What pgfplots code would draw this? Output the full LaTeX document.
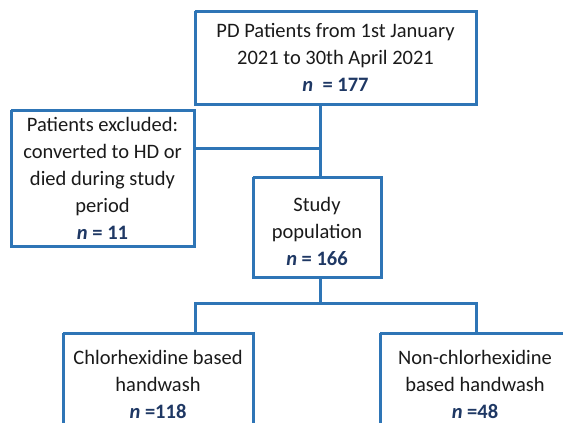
\documentclass[border=0pt]{standalone}
\usepackage{pgfplots}
\pgfplotsset{compat=1.18}
\usepackage{fontspec}
\setmainfont{Carlito}
\definecolor{boxblue}{HTML}{2E75B6}
\definecolor{txt}{HTML}{1A1A1A}
\definecolor{navy}{HTML}{1F3864}
\newcommand{\nn}[1]{{\color{navy}\bfseries\itshape n\upshape#1}}
\tikzset{
  bx/.style={draw=boxblue, line width=3pt, mark=none, solid},
  tx/.style={font=\fontsize{20.5}{27}\selectfont, text=txt, align=center, inner sep=0pt},
}
\begin{document}
\begin{tikzpicture}
\begin{axis}[
  scale only axis, width=563pt, height=423pt,
  xmin=0, xmax=563, ymin=0, ymax=423, y dir=reverse,
  hide axis, clip=true,
]
% frame to fix bounding box
\addplot[draw=none, mark=none] coordinates {(0,0) (563,423)};
% boxes
\addplot[bx] coordinates {(195,11) (476,11) (476,104) (195,104) (195,11)};
\addplot[bx] coordinates {(11,110) (194,110) (194,246) (11,246) (11,110)};
\addplot[bx] coordinates {(253,177) (381,177) (381,277) (253,277) (253,177)};
\addplot[bx] coordinates {(63,333) (253,333) (253,440) (63,440) (63,333)};
\addplot[bx] coordinates {(380,333) (580,333) (580,440) (380,440) (380,333)};
% connectors
\addplot[bx] coordinates {(320,104) (320,177)};
\addplot[bx] coordinates {(194,148) (320,148)};
\addplot[bx] coordinates {(320,277) (320,303)};
\addplot[bx] coordinates {(195,333) (195,303) (476,303) (476,333)};
% texts
\node[tx] at (axis cs:335.5,57.5) {PD Patients from 1st January\\2021 to 30th April 2021\\\nn{\ \ = 177}};
\node[tx] at (axis cs:102.5,178.5) {Patients excluded:\\converted to HD or\\died during study\\period\\\nn{ = 11}};
\node[tx] at (axis cs:317,231.5) {Study\\population\\\nn{ = 166}};
\node[tx] at (axis cs:158,384.5) {Chlorhexidine based\\handwash\\\nn{ =118}};
\node[tx] at (axis cs:475,384.5) {Non-chlorhexidine\\based handwash\\\nn{ =48}};
\end{axis}
\end{tikzpicture}
\end{document}
